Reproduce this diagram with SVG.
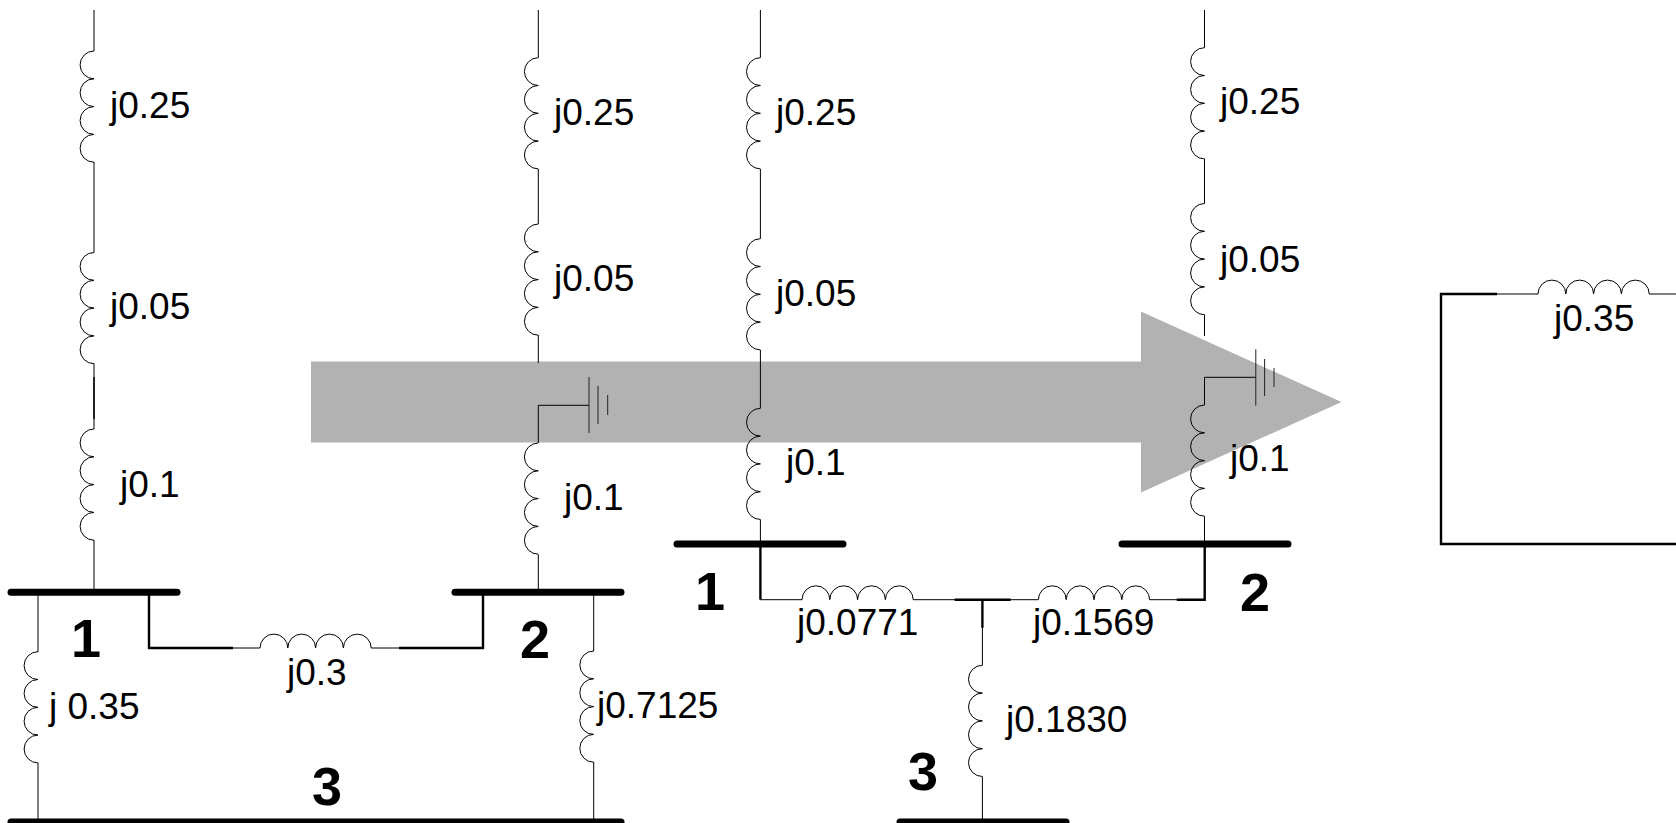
<svg xmlns="http://www.w3.org/2000/svg" width="1676" height="823" viewBox="0 0 1676 823">
<style>
text{font-family:"Liberation Sans",Arial,sans-serif;font-size:37px;fill:#000}
.n{font-weight:700;font-size:54px}
.w,.c{fill:none;stroke:#000;stroke-width:1}
.t{fill:none;stroke:#000;stroke-width:2.400}
.b{fill:none;stroke:#000;stroke-width:7;stroke-linecap:round}
.g{fill:none;stroke:#222;stroke-width:1}
</style>
<defs>
<path id="vc" class="c" d="M0 0A13.900 13.900 0 0 0 0 27.800A13.900 13.900 0 0 0 0 55.600A13.900 13.900 0 0 0 0 83.400A13.900 13.900 0 0 0 0 111.200"/>
<path id="hc" class="c" d="M0 0A13.900 13.900 0 0 1 27.800 0A13.900 13.900 0 0 1 55.600 0A13.900 13.900 0 0 1 83.400 0A13.900 13.900 0 0 1 111.200 0"/>
</defs>
<rect width="1676" height="823" fill="#fff"/>
<polygon id="arrow" fill="#b2b2b2" points="311,361.500 1141,361.500 1141,311.500 1341.500,402 1141,492.500 1141,442.500 311,442.500"/>
<g id="connectors">
<path class="w" d="M94 10V51M94 162V252.500M94 363.500V429M94 540V592"/>
<path class="w" style="stroke-width:1.500" d="M94 377V419"/>
<path class="w" d="M38 592V652M38 763V821"/>
<path class="t" d="M149 592V648H233"/>
<path class="w" d="M233 648H260M371.200 648H399"/>
<path class="t" d="M399 648H483V592"/>
<path class="w" d="M593.700 592V651M593.700 762V821"/>
<path class="w" d="M538.300 10V57.700M538.300 169V224M538.300 335V363M538.300 443V405.300H589M538.300 554.500V592"/>
<path class="w" d="M760.400 10V57.700M760.400 169V238.700M760.400 349.900V408.300M760.400 519.500V544"/>
<path class="t" d="M760.400 544V599.700"/>
<path class="w" d="M760.400 599.700H802M913.200 599.700H955M1010 599.700H1038.400M1149.600 599.700H1177"/>
<path class="t" d="M954.600 599.700H1010.600M982.400 599.700V627.700"/>
<path class="w" d="M982.400 627V665.300M982.400 776.500V821"/>
<path class="t" d="M1176.800 599.700H1204.700V544"/>
<path class="w" d="M1204.500 10V47.700M1204.500 158.900V203.500M1204.500 314.700V336M1204.500 405V377.300H1255.800M1204.500 516.200V544"/>
<path class="t" d="M1497 294H1441V544H1676"/>
<path class="w" d="M1496 294H1538M1649.200 294H1676"/>
</g>
<g id="ground-a"><path class="g" d="M589 377V433M598 386V424M607.700 395V415"/></g>
<g id="ground-b"><path class="g" d="M1255.800 349.300V405.700M1264.600 359V396M1274 368V387"/></g>
<g id="bus-a1"><path class="b" d="M11 592.300H177"/><text class="n" x="71" y="657">1</text></g>
<g id="bus-a2"><path class="b" d="M455 592.300H621"/><text class="n" x="520" y="658">2</text></g>
<g id="bus-a3"><path class="b" d="M11 822H621"/><text class="n" x="312" y="805">3</text></g>
<g id="bus-b1"><path class="b" d="M677 544H843"/><text class="n" x="695" y="610">1</text></g>
<g id="bus-b2"><path class="b" d="M1122 544H1288"/><text class="n" x="1240" y="611">2</text></g>
<g id="bus-b3"><path class="b" d="M900 822H1066"/><text class="n" x="908" y="790">3</text></g>
<g id="l-a1"><use href="#vc" x="94" y="51"/><text x="110" y="118">j0.25</text></g>
<g id="l-a2"><use href="#vc" x="94" y="252.500"/><text x="110" y="319">j0.05</text></g>
<g id="l-a3"><use href="#vc" x="94" y="429"/><text x="120" y="497">j0.1</text></g>
<g id="l-a4"><use href="#vc" x="38" y="651.700"/><text x="49" y="719">j 0.35</text></g>
<g id="l-a5"><use href="#hc" x="260" y="648"/><text x="287" y="685">j0.3</text></g>
<g id="l-a6"><use href="#vc" x="593.700" y="651"/><text x="597" y="718">j0.7125</text></g>
<g id="l-a7"><use href="#vc" x="538.300" y="57.700"/><text x="554" y="125">j0.25</text></g>
<g id="l-a8"><use href="#vc" x="538.300" y="224"/><text x="554" y="291">j0.05</text></g>
<g id="l-a9"><use href="#vc" x="538.300" y="443"/><text x="564" y="510">j0.1</text></g>
<g id="l-b1"><use href="#vc" x="760.400" y="57.700"/><text x="776" y="125">j0.25</text></g>
<g id="l-b2"><use href="#vc" x="760.400" y="238.700"/><text x="776" y="306">j0.05</text></g>
<g id="l-b3"><use href="#vc" x="760.400" y="408.300"/><text x="786" y="475">j0.1</text></g>
<g id="l-b4"><use href="#hc" x="802" y="599.700"/><text x="797" y="635">j0.0771</text></g>
<g id="l-b5"><use href="#hc" x="1038.400" y="599.700"/><text x="1033" y="635">j0.1569</text></g>
<g id="l-b6"><use href="#vc" x="982.400" y="665.300"/><text x="1006" y="732">j0.1830</text></g>
<g id="l-b7"><use href="#vc" x="1204.500" y="47.700"/><text x="1220" y="114">j0.25</text></g>
<g id="l-b8"><use href="#vc" x="1204.500" y="203.500"/><text x="1220" y="272">j0.05</text></g>
<g id="l-b9"><use href="#vc" x="1204.500" y="405"/><text x="1230" y="471">j0.1</text></g>
<g id="l-c1"><use href="#hc" x="1538" y="294"/><text x="1554" y="331">j0.35</text></g>
</svg>
